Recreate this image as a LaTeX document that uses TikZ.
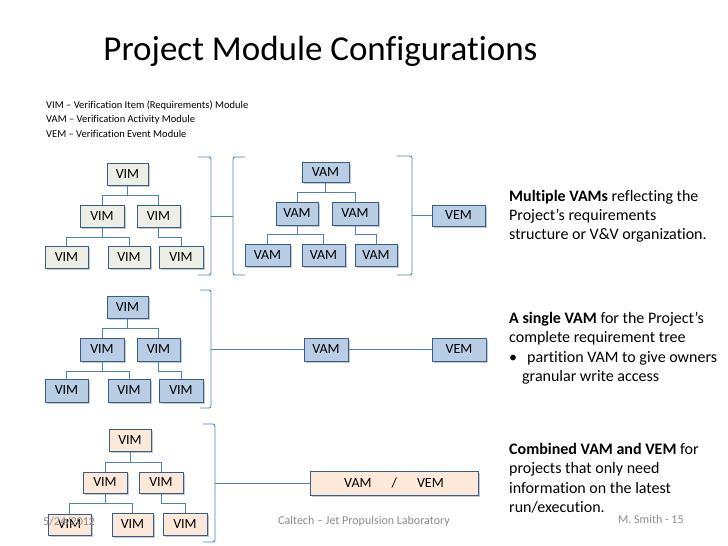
\documentclass[tikz,border=0pt]{standalone}
\usepackage{fontspec}
\setmainfont{Carlito}[Ligatures=NoCommon]
\usetikzlibrary{shadows}
\definecolor{boxborder}{RGB}{56,93,138}
\definecolor{bluefill}{RGB}{185,205,229}
\definecolor{grayfill}{RGB}{238,239,228}
\definecolor{peachfill}{RGB}{253,233,217}
\definecolor{lineblue}{RGB}{79,129,189}
\definecolor{footgray}{RGB}{140,140,140}
\tikzset{
  modbox/.style={draw=boxborder, line width=1pt, minimum width=44pt, minimum height=22pt,
    inner sep=0pt, font=\fontsize{14}{16}\selectfont,
    drop shadow={shadow xshift=1.5pt, shadow yshift=-1.5pt, opacity=0.35, fill=black!60}},
  grayb/.style={modbox, fill=grayfill},
  blueb/.style={modbox, fill=bluefill},
  peachb/.style={modbox, fill=peachfill},
  conn/.style={draw=lineblue, line width=0.9pt},
  brack/.style={draw=lineblue, line width=0.9pt, rounded corners=2pt},
  side/.style={anchor=base west, inner sep=0pt, font=\fontsize{16}{19}\selectfont},
  defn/.style={anchor=base west, inner sep=0pt, font=\fontsize{10.5}{13}\selectfont},
  foot/.style={inner sep=0pt, text=footgray, font=\fontsize{12}{14}\selectfont}
}
\begin{document}
\begin{tikzpicture}[x=1pt, y=-1pt]
\useasboundingbox (0,0) rectangle (728,546);
\fill[white] (0,0) rectangle (728,546);

% title and definitions
\node[anchor=base, inner sep=0pt, font=\fontsize{35}{40}\selectfont] (title) at (320.5,60) {Project Module Configurations};
\node[defn] (d1) at (46,108) {VIM – Verification Item (Requirements) Module};
\node[defn] (d2) at (46,122.5) {VAM – Verification Activity Module};
\node[defn] (d3) at (46,137) {VEM – Verification Event Module};

% ---------- top section ----------
\node[grayb, minimum width=41pt] (t1) at (127.5,174) {VIM};
\node[grayb] (t2) at (102,216) {VIM};
\node[grayb, minimum width=43pt] (t3) at (158.5,216) {VIM};
\node[grayb, minimum width=43pt] (t4) at (66.5,257) {VIM};
\node[grayb, minimum width=42pt] (t5) at (129,257) {VIM};
\node[grayb] (t6) at (181,257) {VIM};
\draw[conn] (t1.south) -- ++(0,10) -| (t2.north);
\draw[conn] (t1.south) -- ++(0,10) -| (t3.north);
\draw[conn] (t2.south) -- ++(0,10) -| (t4.north);
\draw[conn] (t2.south) -- ++(0,10) -| (t5.north);
\draw[conn] (t3.south) -- ++(0,10) -| (t6.north);

\node[blueb, minimum width=47pt, minimum height=20pt] (v1) at (325.5,172) {VAM};
\node[blueb, minimum width=42pt, minimum height=23pt] (v2) at (297,213.5) {VAM};
\node[blueb, minimum width=46pt, minimum height=23pt] (v3) at (355,213.5) {VAM};
\node[blueb, minimum width=45pt] (v4) at (267.5,255) {VAM};
\node[blueb, minimum width=43pt] (v5) at (323.5,255) {VAM};
\node[blueb, minimum width=42pt] (v6) at (376,255) {VAM};
\draw[conn] (v1.south) -- ++(0,10) -| (v2.north);
\draw[conn] (v1.south) -- ++(0,10) -| (v3.north);
\draw[conn] (v2.south) -- ++(0,9) -| (v4.north);
\draw[conn] (v2.south) -- ++(0,9) -| (v5.north);
\draw[conn] (v3.south) -- ++(0,9) -| (v6.north);

\node[blueb, minimum width=53pt, minimum height=21pt] (e1) at (458.5,215.5) {VEM};

\draw[brack] (198,157) -- (211,157) -- (211,275) -- (198,275);
\coordinate (k1) at (211,216);
\draw[brack] (245,157) -- (233,157) -- (233,275) -- (245,275);
\coordinate (k2) at (233,216);
\draw[conn] (k1) -- (k2);
\draw[brack] (397,156) -- (412,156) -- (412,275) -- (397,275);
\coordinate (k3) at (412,215.5);
\draw[conn] (k3) -- (e1.west);

% ---------- middle section ----------
\node[blueb, minimum width=41pt] (m1) at (127.5,307.5) {VIM};
\node[blueb, minimum height=23pt] (m2) at (102,349.5) {VIM};
\node[blueb, minimum width=43pt, minimum height=23pt] (m3) at (158.5,349.5) {VIM};
\node[blueb, minimum width=43pt, minimum height=23pt] (m4) at (66.5,390.5) {VIM};
\node[blueb, minimum width=42pt, minimum height=23pt] (m5) at (129,390.5) {VIM};
\node[blueb, minimum height=23pt] (m6) at (181,390.5) {VIM};
\draw[conn] (m1.south) -- ++(0,9.5) -| (m2.north);
\draw[conn] (m1.south) -- ++(0,9.5) -| (m3.north);
\draw[conn] (m2.south) -- ++(0,9.5) -| (m4.north);
\draw[conn] (m2.south) -- ++(0,9.5) -| (m5.north);
\draw[conn] (m3.south) -- ++(0,9.5) -| (m6.north);

\node[blueb, minimum height=23pt] (va2) at (326,349.5) {VAM};
\node[blueb, minimum width=54pt, minimum height=23pt] (e2) at (459,349.5) {VEM};

\draw[brack] (200,290) -- (211,290) -- (211,408) -- (200,408);
\coordinate (k4) at (211,349.5);
\draw[conn] (k4) -- (va2.west);
\draw[conn] (va2.east) -- (e2.west);

% ---------- bottom section ----------
\node[peachb, minimum width=42pt] (b1) at (130,440) {VIM};
\node[peachb, minimum height=21pt] (b2) at (105,482.5) {VIM};
\node[peachb, minimum height=21pt] (b3) at (161,482.5) {VIM};
\node[peachb, minimum width=43pt, minimum height=21pt] (b4) at (69.5,524.5) {VIM};
\node[peachb, minimum width=41pt, minimum height=23pt] (b5) at (132.5,524.5) {VIM};
\node[peachb, minimum height=22pt] (b6) at (185,524.5) {VIM};
\draw[conn] (b1.south) -- ++(0,11) -| (b2.north);
\draw[conn] (b1.south) -- ++(0,11) -| (b3.north);
\draw[conn] (b2.south) -- ++(0,9.5) -| (b4.north);
\draw[conn] (b2.south) -- ++(0,9.5) -| (b5.north);
\draw[conn] (b3.south) -- ++(0,9.5) -| (b6.north);

\node[peachb, minimum width=168pt, minimum height=24pt] (c1) at (394,483) {VAM\hspace{20pt}/\hspace{20pt}VEM};

\draw[brack] (203,424) -- (215,424) -- (215,542) -- (203,542);
\coordinate (k5) at (215,483);
\draw[conn] (k5) -- (c1.west);

% ---------- side texts ----------
\node[side] (s1) at (509,201) {\textbf{Multiple VAMs} reflecting the};
\node[side] (s2) at (509,220) {Project’s requirements};
\node[side] (s3) at (509,239) {structure or V\&V organization.};

\node[side] (s4) at (509,323) {\textbf{A single VAM} for the Project’s};
\node[side] (s5) at (509,342) {complete requirement tree};
\node[side] (s6) at (509,362) {•};
\node[side] (s7) at (527,362) {partition VAM to give owners};
\node[side] (s8) at (522,381) {granular write access};

\node[side] (s9) at (509,454) {\textbf{Combined VAM and VEM} for};
\node[side] (s10) at (509,473) {projects that only need};
\node[side] (s11) at (509,493) {information on the latest};
\node[side] (s12) at (509,512) {run/execution.};

% ---------- footer ----------
\node[foot, anchor=base] (f1) at (364,524) {Caltech – Jet Propulsion Laboratory};
\node[foot, anchor=base west] (f2) at (43,525) {5/24/2012};
\node[foot, anchor=base west] (f3) at (618,523) {M. Smith - 15};
\end{tikzpicture}
\end{document}
